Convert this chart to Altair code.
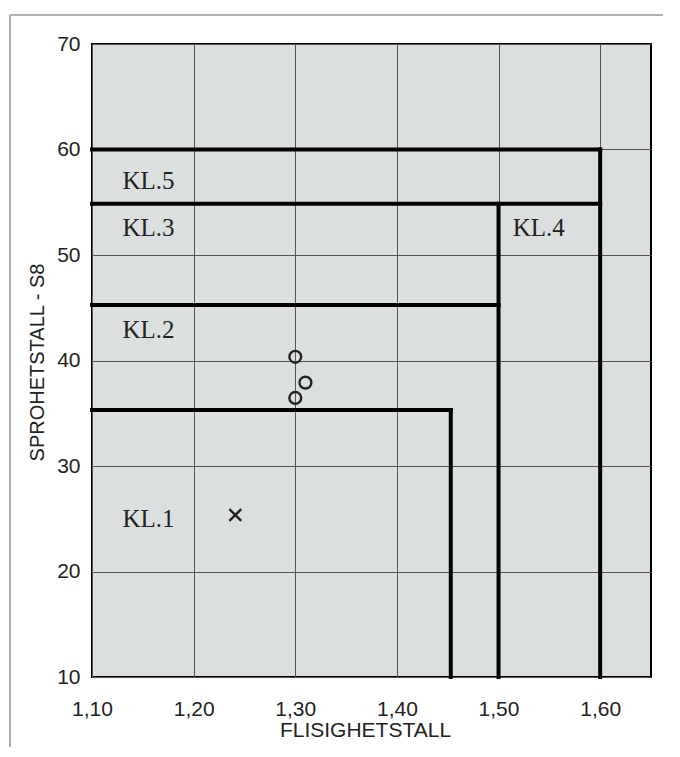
import altair as alt
import pandas as pd

# Boundary segments (thick lines)
seg_x = [1.10, 1.453, 1.10, 1.10, 1.50, 1.10, 1.60]
seg_y = [35.3, 35.3, 45.25, 54.85, 54.85, 60.0, 60.0]
seg_x2 = [1.453, 1.453, 1.50, 1.60, 1.50, 1.60, 1.60]
seg_y2 = [35.3, 10.0, 45.25, 54.85, 10.0, 60.0, 10.0]

# Class labels
lab_text = ["KL.5", "KL.3", "KL.2", "KL.1", "KL.4"]
lab_x = [1.130, 1.130, 1.130, 1.130, 1.514]
lab_y = [57.0, 52.6, 42.85, 24.95, 52.6]

# Measured samples
circ_x = [1.300, 1.310, 1.300]
circ_y = [40.35, 37.9, 36.45]
cross_x = [1.241]
cross_y = [25.35]

x_ticks = [1.10, 1.20, 1.30, 1.40, 1.50, 1.60]
y_ticks = [10, 20, 30, 40, 50, 60, 70]

segs = pd.DataFrame({"x": seg_x, "y": seg_y, "x2": seg_x2, "y2": seg_y2})
labs = pd.DataFrame({"t": lab_text, "x": lab_x, "y": lab_y})
circs = pd.DataFrame({"x": circ_x, "y": circ_y})
cross = pd.DataFrame({"x": cross_x, "y": cross_y})

xs = alt.Scale(domain=[1.10, 1.65], nice=False, zero=False)
ys = alt.Scale(domain=[10, 70], nice=False, zero=False)

xaxis = alt.Axis(
    values=x_ticks, title="FLISIGHETSTALL", grid=True, ticks=False, domain=False,
    labelExpr="replace(format(datum.value, '.2f'), '.', ',')",
    labelFont="Liberation Sans", labelFontSize=21, labelColor="#222",
    labelPadding=21, labelFlush=False,
    titleFont="Liberation Sans", titleFontSize=21, titleFontWeight="normal",
    titleColor="#222", titleX=273, titleY=53, titleBaseline="middle",
    titleAlign="center",
    gridColor="#555", gridWidth=1,
)
yaxis = alt.Axis(
    values=y_ticks, title="SPROHETSTALL - S8", grid=True, ticks=False, domain=False,
    format="d",
    labelFont="Liberation Sans", labelFontSize=21, labelColor="#222",
    labelPadding=12, labelFlush=False,
    titleFont="Liberation Sans", titleFontSize=20, titleFontWeight="normal",
    titleColor="#222", titleX=-55, titleY=318, titleAngle=-90,
    titleBaseline="middle", titleAlign="center",
    gridColor="#555", gridWidth=1,
)

base_x = alt.X("x:Q", scale=xs, axis=xaxis)
base_y = alt.Y("y:Q", scale=ys, axis=yaxis)

rules = alt.Chart(segs).mark_rule(color="black", strokeWidth=4, strokeCap="square").encode(
    x=base_x, y=base_y, x2="x2:Q", y2="y2:Q"
)

texts = alt.Chart(labs).mark_text(
    font="Liberation Serif", fontSize=25, align="left", baseline="middle", color="#222"
).encode(x="x:Q", y="y:Q", text="t:N")

circles = alt.Chart(circs).mark_point(
    shape="circle", filled=False, size=140, strokeWidth=2.4, color="#222", opacity=1
).encode(x="x:Q", y="y:Q")

crosses = alt.Chart(cross).mark_point(
    shape="M-1,-1L1,1M1,-1L-1,1", filled=False, size=140, strokeWidth=2.4,
    color="#222", opacity=1
).encode(x="x:Q", y="y:Q")

frame_top = alt.Chart(segs).mark_rule(color="#b0b0b0", strokeWidth=2).encode(
    x=alt.value(-82), x2=alt.value(571), y=alt.value(-29)
)
frame_left = alt.Chart(segs).mark_rule(color="#b0b0b0", strokeWidth=2).encode(
    x=alt.value(-82), y=alt.value(-29), y2=alt.value(703)
)

chart = alt.layer(rules, texts, circles, crosses, frame_top, frame_left).properties(
    width=559, height=633,
    autosize=alt.AutoSizeParams(type="none"),
    padding={"left": 84, "top": 36, "right": 20, "bottom": 70},
    background="white",
).configure_view(
    fill="#dcdfdf", stroke="black", strokeWidth=2
)

chart.save("out.html", embed_options={"renderer": "svg", "actions": False})
